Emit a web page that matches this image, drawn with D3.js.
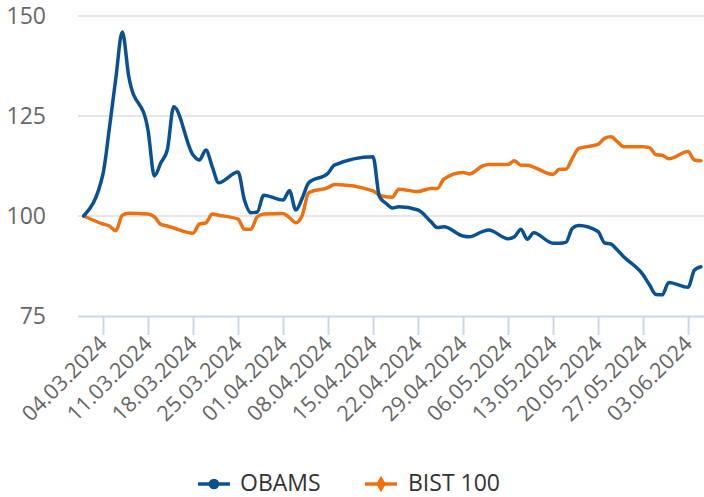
<!DOCTYPE html>
<html>
<head>
<meta charset="utf-8">
<script src="https://cdn.jsdelivr.net/npm/d3@7"></script>
<style>
  body { margin: 0; background: #fff; }
  #chart text { font-family: "Open Sans", sans-serif; }
</style>
</head>
<body>
<div id="chart"></div>
<script>
  "use strict";

  // Trading days shown on the chart (dd.mm.yyyy)
  var dates = [
    "01.03.2024", "04.03.2024", "05.03.2024", "06.03.2024", "07.03.2024", "08.03.2024",
    "11.03.2024", "12.03.2024", "13.03.2024", "14.03.2024", "15.03.2024",
    "18.03.2024", "19.03.2024", "20.03.2024", "21.03.2024", "22.03.2024",
    "25.03.2024", "26.03.2024", "27.03.2024", "28.03.2024", "29.03.2024",
    "01.04.2024", "02.04.2024", "03.04.2024", "04.04.2024", "05.04.2024",
    "08.04.2024", "09.04.2024",
    "15.04.2024", "16.04.2024", "17.04.2024", "18.04.2024", "19.04.2024",
    "22.04.2024", "24.04.2024", "25.04.2024", "26.04.2024",
    "29.04.2024", "30.04.2024", "02.05.2024", "03.05.2024",
    "06.05.2024", "07.05.2024", "08.05.2024", "09.05.2024", "10.05.2024",
    "13.05.2024", "14.05.2024", "15.05.2024", "16.05.2024", "17.05.2024",
    "20.05.2024", "21.05.2024", "22.05.2024", "23.05.2024", "24.05.2024",
    "27.05.2024", "28.05.2024", "29.05.2024", "30.05.2024", "31.05.2024",
    "03.06.2024", "04.06.2024", "05.06.2024"
  ];

  var obams = [
    100, 110.5, 122, 134.5, 146, 135,
    121.5, 110, 113.3, 116.5, 127.3,
    115.3, 114, 116.5, 112.3, 108.3,
    111, 104, 100.8, 101, 105.2,
    104, 106.3, 101.5, 104.5, 108.3,
    110.7, 112.7,
    114.8, 104.8, 103.2, 102, 102.3,
    101.5, 98.6, 97.1, 97.3,
    95, 94.8, 96.1, 96.5,
    94.3, 94.8, 96.7, 94.2, 95.8,
    93.2, 93.2, 93.4, 96.9, 97.6,
    96.1, 93.3, 93, 91.5, 89.8,
    85.3, 82.8, 80.4, 80.3, 83.4,
    82.2, 86.5, 87.3
  ];

  var bist100 = [
    100, 98, 97.5, 96.3, 100.2, 100.7,
    100.5, 99.8, 97.9, 97.5, 97,
    95.7, 98, 98.3, 100.5, 100.2,
    99.2, 96.7, 96.7, 99.8, 100.5,
    100.6, 99.6, 98.3, 100.2, 105.8,
    107.1, 107.9,
    106.3, 105.2, 104.8, 104.7, 106.7,
    106.1, 106.9, 106.9, 109.2,
    110.9, 110.5, 112.5, 112.9,
    112.9, 113.8, 112.7, 112.7, 112.2,
    110.4, 111.7, 111.7, 114.4, 116.9,
    117.9, 119.4, 119.8, 118.6, 117.3,
    117.3, 117.1, 115.3, 115.2, 114.3,
    116.1, 114, 113.8
  ];

  var seriesNames = ["OBAMS", "BIST 100"];
  var seriesColors = ["#0a5191", "#ec7211"];

  var yTicks = [75, 100, 125, 150];
  var xTickLabels = [
    "04.03.2024", "11.03.2024", "18.03.2024", "25.03.2024", "01.04.2024",
    "08.04.2024", "15.04.2024", "22.04.2024", "29.04.2024", "06.05.2024",
    "13.05.2024", "20.05.2024", "27.05.2024", "03.06.2024"
  ];

  var WIDTH = 704;
  var HEIGHT = 497;

  var parseDate = d3.timeParse("%d.%m.%Y");

  var svg = d3.select("#chart")
      .append("svg")
      .attr("width", WIDTH)
      .attr("height", HEIGHT);

  var x = d3.scaleTime()
      .domain([parseDate("01.03.2024"), parseDate("05.06.2024")])
      .range([83.7, 700.9]);

  var y = d3.scaleLinear()
      .domain([75, 150])
      .range([316, 16]);

  drawGrid();
  drawXAxis();
  drawSeries(bist100, seriesColors[1]);
  drawSeries(obams, seriesColors[0]);
  drawLegend();

  /**
   * Horizontal grid lines plus the value labels on the left.
   */
  function drawGrid() {
    var grid = svg.append("g");

    grid.selectAll("line")
        .data(yTicks.filter(function(t) { return t !== 75; }))
        .enter()
        .append("line")
        .attr("x1", 78)
        .attr("x2", WIDTH)
        .attr("y1", function(d) { return y(d); })
        .attr("y2", function(d) { return y(d); })
        .attr("stroke", "#e6e6e6")
        .attr("stroke-width", 2);

    grid.selectAll("text")
        .data(yTicks)
        .enter()
        .append("text")
        .attr("x", 46)
        .attr("y", function(d) { return y(d); })
        .attr("dy", "0.36em")
        .attr("text-anchor", "end")
        .attr("fill", "#666")
        .style("font-size", "23px")
        .text(function(d) { return d; });
  }

  /**
   * Bottom axis: line, weekly ticks and rotated date labels.
   */
  function drawXAxis() {
    var axis = svg.append("g")
        .attr("transform", "translate(0," + y(75) + ")")
        .call(d3.axisBottom(x)
          .tickValues(xTickLabels.map(parseDate))
          .tickSize(19)
          .tickFormat(d3.timeFormat("%d.%m.%Y")));

    axis.select(".domain")
        .attr("d", "M78,0.5H" + WIDTH)
        .attr("stroke", "#ccd6eb")
        .attr("stroke-width", 2);

    axis.selectAll(".tick line")
        .attr("stroke", "#ccd6eb")
        .attr("stroke-width", 2);

    axis.selectAll(".tick text")
        .attr("fill", "#666")
        .attr("y", 0)
        .attr("dy", 0)
        .attr("text-anchor", "end")
        .attr("transform", "translate(5,29) rotate(-45)")
        .style("font-family", "Open Sans, sans-serif")
        .style("font-size", "21.5px");
  }

  /**
   * Draws one smoothed series line.
   */
  function drawSeries(values, color) {
    var line = d3.line()
        .x(function(d, i) { return x(parseDate(dates[i])); })
        .y(function(d) { return y(d); })
        .curve(d3.curveMonotoneX);

    svg.append("path")
        .datum(values)
        .attr("fill", "none")
        .attr("stroke", color)
        .attr("stroke-width", 3.5)
        .attr("stroke-linejoin", "round")
        .attr("stroke-linecap", "round")
        .attr("d", line);
  }

  /**
   * Legend at the bottom: OBAMS with a circle, BIST 100 with a diamond.
   */
  function drawLegend() {
    var items = [
      { x: 198, textX: 240, symbol: d3.symbolCircle, size: 90 },
      { x: 365, textX: 408, symbol: d3.symbolDiamond, size: 80 }
    ];

    var legend = svg.append("g")
        .attr("transform", "translate(0,484)");

    items.forEach(function(item, i) {
      legend.append("line")
          .attr("x1", item.x)
          .attr("x2", item.x + 32)
          .attr("y1", 0)
          .attr("y2", 0)
          .attr("stroke", seriesColors[i])
          .attr("stroke-width", 3.5);

      legend.append("path")
          .attr("transform", "translate(" + (item.x + 16) + ",0)")
          .attr("d", d3.symbol().type(item.symbol).size(item.size))
          .attr("fill", seriesColors[i]);

      legend.append("text")
          .attr("x", item.textX)
          .attr("y", 0)
          .attr("dy", "0.3em")
          .attr("fill", "#333")
          .style("font-size", "23px")
          .text(seriesNames[i]);
    });
  }
</script>
</body>
</html>
